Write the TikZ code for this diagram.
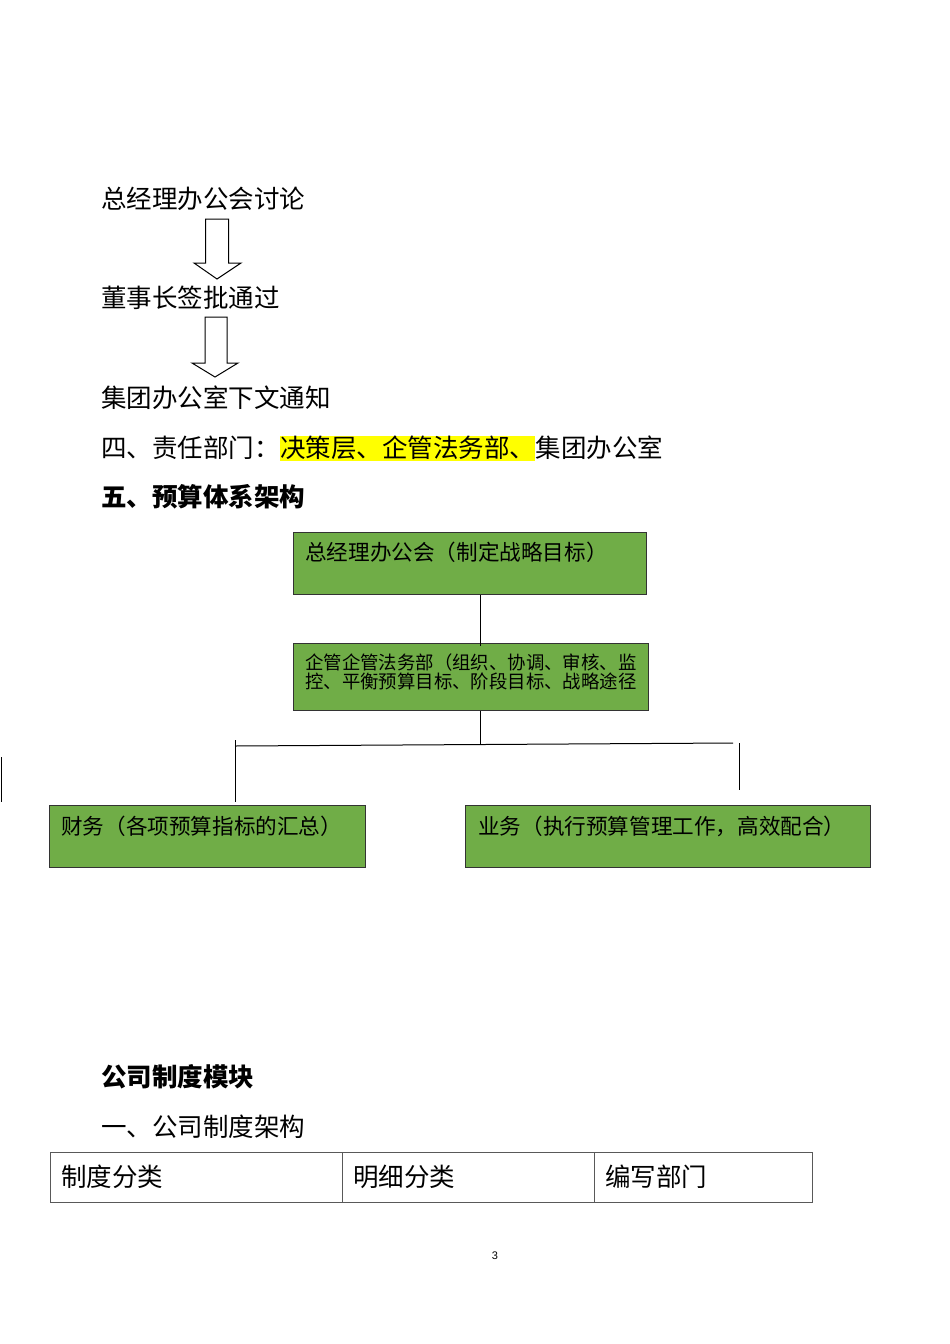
\documentclass[tikz,border=0pt]{standalone}
\usepackage{fontspec}
\setmainfont{Noto Sans CJK SC}
\newfontfamily\numfont{Liberation Sans}
\usepackage{xcolor}
\usetikzlibrary{positioning}
\definecolor{boxgreen}{HTML}{70AD47}
\definecolor{marker}{HTML}{FFFF00}

\begin{document}
\begin{tikzpicture}[
    x=1pt, y=-1pt,
    every node/.style={inner sep=0pt},
    body/.style={anchor=base west, font=\fontsize{25.5}{30}\selectfont},
    head/.style={anchor=base west, font=\fontsize{25.5}{30}\selectfont\bfseries},
    gbox/.style={draw=black!80, fill=boxgreen, line width=1.2pt, anchor=north west},
    gtext/.style={anchor=base west, align=left, font=\fontsize{21.6}{24}\selectfont},
    hollow/.style={draw, line width=1pt, fill=white},
    link/.style={draw, line width=1pt},
    cell/.style={draw=black!65, line width=1pt, anchor=north west, outer sep=0pt,
      minimum height=50pt, align=left, inner xsep=11pt, font=\fontsize{25.5}{30}\selectfont}
  ]

  \path[use as bounding box, fill=white] (0,0) rectangle (950,1344);

  % approval flow
  \node[body] (talk) at (101,208.5) {总经理办公会讨论};
  \node[body] (sign) at (101,307.5) {董事长签批通过};
  \node[body] (notice) at (101,407.5) {集团办公室下文通知};

  \draw[hollow] (205.5,219) -- (228.5,219) -- (228.5,263) -- (241,263) -- (217,279)
    -- (194,263) -- (205.5,263) -- cycle;
  \draw[hollow] (205,317) -- (227,317) -- (227,363) -- (238,363) -- (215,377)
    -- (192,363) -- (205,363) -- cycle;

  % responsible departments
  \node[body] (duty) at (101,457.5) {四、责任部门：};
  \node[body, fill=marker, text height=21.5pt, text depth=3.5pt] (dutyhl) at (duty.base east) {决策层、企管法务部、};
  \node[body] (dutyend) at (dutyhl.base east) {集团办公室};

  \node[head] (budget) at (101,506.5) {五、预算体系架构};

  % budget structure
  \node[gbox, minimum width=353pt, minimum height=62pt] (ceo) at (293,532) {};
  \node[gtext] (ceotxt) at ([shift={(12,28)}]ceo.north west) {总经理办公会（制定战略目标）};

  \node[gbox, minimum width=355pt, minimum height=67pt] (legal) at (293,643) {};
  \node[gtext, font=\fontsize{18.4}{19}\selectfont] (legaltxt) at ([shift={(12,45)}]legal.north west)
    {企管企管法务部（组织、协调、审核、监\\控、平衡预算目标、阶段目标、战略途径};

  \node[gbox, minimum width=316pt, minimum height=62pt] (fin) at (49,805) {};
  \node[gtext] (fintxt) at ([shift={(12,29)}]fin.north west) {财务（各项预算指标的汇总）};

  \node[gbox, minimum width=405pt, minimum height=62pt] (biz) at (465,805) {};
  \node[gtext] (biztxt) at ([shift={(13,29)}]biz.north west) {业务（执行预算管理工作，高效配合）};

  \coordinate (busmid) at (480,745);
  \coordinate (busL) at (235,746);
  \coordinate (busR) at (733,743);
  \coordinate (finup) at (235,740);
  \coordinate (bizup) at (739,743);
  \coordinate (bizdn) at (739,790);
  \coordinate (strayup) at (1.5,757);
  \coordinate (straydn) at (1.5,802);

  \draw[link] (ceo.south -| busmid) -- ([yshift=-3pt]legal.north -| busmid);
  \draw[link] (legal.south -| busmid) -- (busmid);
  \draw[link] (busL) -- (busR);
  \draw[link] (finup) -- ([yshift=3pt]fin.north -| finup);
  \draw[link] (bizup) -- (bizdn);
  \draw[link] (strayup) -- (straydn);

  % company rules
  \node[head] (rules) at (101,1086.5) {公司制度模块};
  \node[body] (frame) at (101,1136.5) {一、公司制度架构};

  \node[cell, text width=270pt] (colA) at (50,1152) {制度分类};
  \node[cell, text width=230pt] (colB) at (colA.north east) {明细分类};
  \node[cell, text width=196pt] (colC) at (colB.north east) {编写部门};

  \node[font=\numfont\fontsize{11}{13}\selectfont] (page) at (495,1256) {3};

\end{tikzpicture}
\end{document}
